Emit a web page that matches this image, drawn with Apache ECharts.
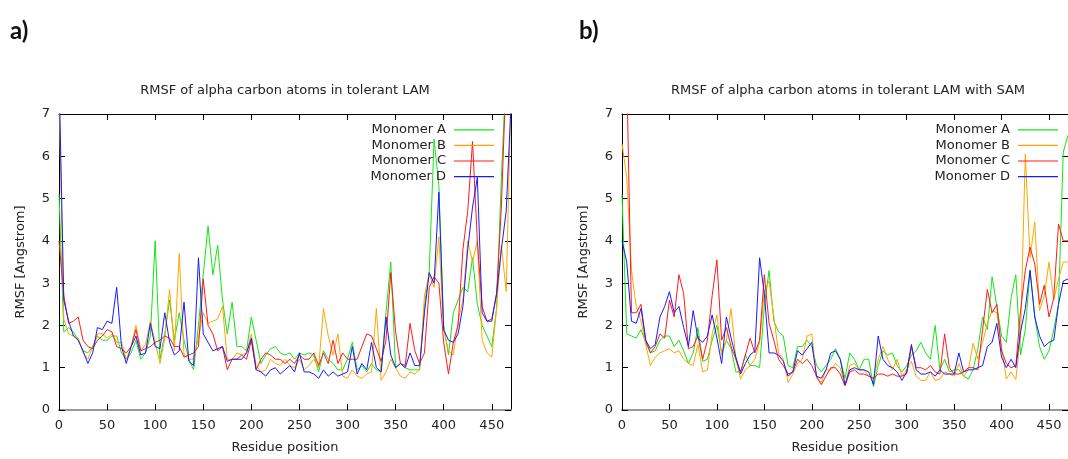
<!DOCTYPE html>
<html>
<head>
<meta charset="utf-8">
<title>RMSF tolerant LAM</title>
<script src="https://cdn.jsdelivr.net/npm/echarts@6/dist/echarts.min.js"></script>
<style>
  html, body { margin: 0; padding: 0; background: #fff; }
  #main { width: 1068px; height: 459px; }
</style>
</head>
<body>
<div id="main"></div>
<script>
// residue positions (every 5th residue)
const residues = [0,5,10,15,20,25,30,35,40,45,50,55,60,65,70,75,80,85,90,95,
  100,105,110,115,120,125,130,135,140,145,150,155,160,165,170,175,180,185,190,195,
  200,205,210,215,220,225,230,235,240,245,250,255,260,265,270,275,280,285,290,295,
  300,305,310,315,320,325,330,335,340,345,350,355,360,365,370,375,380,385,390,395,
  400,405,410,415,420,425,430,435,440,445,450,455,460,465,470];

// a) tolerant LAM
const apoA = [5.1,1.85,1.95,1.85,1.65,1.4,1.35,1.5,1.75,1.65,1.65,1.75,1.75,1.35,1.2,1.35,1.65,1.2,1.35,1.75,
  4.0,1.2,1.8,2.6,1.65,2.3,1.65,1.2,0.95,2.0,3.2,4.35,3.2,3.9,2.6,1.8,2.55,1.5,1.5,1.4,
  2.2,1.65,1.1,1.3,1.45,1.5,1.35,1.3,1.35,1.2,1.35,1.3,1.35,1.3,0.9,1.4,1.2,1.1,0.95,0.95,
  1.2,1.6,0.95,1.05,0.9,1.1,0.95,0.9,2.3,3.5,1.0,1.1,1.0,0.95,0.95,0.95,2.45,3.3,6.4,5.3,
  2.0,1.3,2.3,2.6,2.9,2.8,3.6,2.5,2.0,1.75,1.5,2.4,5.5,8,8];
const apoB = [7.5,2.15,1.8,1.75,1.7,1.35,1.2,1.5,1.8,1.8,1.7,1.8,1.6,1.6,1.2,1.5,2.0,1.4,1.55,2.1,
  1.6,1.1,1.7,2.85,1.4,3.7,1.3,1.2,1.2,1.7,2.3,2.05,2.1,2.15,2.45,1.2,1.2,1.35,1.3,1.35,
  1.8,1.05,0.9,0.95,1.2,1.1,1.05,1.2,1.05,1.0,1.2,0.95,1.05,1.2,1.0,2.4,1.75,1.3,1.8,0.8,
  0.75,0.95,0.8,0.75,0.85,0.9,2.4,0.7,0.9,1.2,1.0,0.8,0.75,0.9,0.85,0.95,2.7,3.2,2.9,4.1,
  1.9,1.4,1.3,2.1,2.6,4.0,3.5,4.0,1.65,1.35,1.25,2.4,3.9,2.8,7.5];
const apoC = [4.0,2.7,2.05,2.1,2.2,1.65,1.5,1.45,1.65,1.75,1.9,1.85,1.5,1.45,1.35,1.5,1.9,1.4,1.45,1.5,
  1.6,1.65,1.75,1.7,1.5,1.5,1.25,1.3,1.35,1.5,3.1,2.0,1.8,1.4,1.5,0.95,1.2,1.2,1.3,1.2,
  1.65,0.95,1.2,1.35,1.3,1.2,1.2,1.1,1.2,1.1,1.3,1.2,1.2,1.35,1.05,1.35,1.1,1.65,1.1,1.35,
  1.2,1.2,1.2,1.5,1.8,1.75,1.45,1.15,1.65,3.25,1.85,1.1,1.05,2.05,1.4,1.1,1.35,2.9,3.15,3.0,
  1.6,0.85,1.6,2.0,3.8,4.7,6.35,4.0,2.45,2.1,2.15,2.75,4.8,8,8];
const apoD = [8,2.6,2.1,1.75,1.65,1.4,1.1,1.35,1.95,1.9,2.1,2.05,2.9,1.5,1.1,1.5,1.75,1.3,1.35,2.05,
  1.5,1.45,2.3,1.6,1.3,1.4,2.55,1.15,1.05,3.6,1.8,1.6,1.4,1.45,1.5,1.15,1.2,1.2,1.2,1.35,
  1.7,0.95,0.9,0.8,0.95,1.0,0.85,0.95,1.05,0.9,1.35,0.9,0.9,0.85,0.75,0.95,0.8,0.9,0.8,0.85,
  0.9,1.5,0.85,1.1,0.95,1.6,1.0,0.9,2.2,1.3,1.0,1.1,1.0,1.35,1.05,1.05,2.3,3.25,3.0,5.15,
  1.9,1.65,1.6,1.8,2.45,3.8,4.8,5.5,2.3,2.1,2.1,2.75,3.8,4.7,7.2];

// b) tolerant LAM with SAM
const samA = [5.1,1.8,1.75,1.7,1.9,1.6,1.35,1.4,1.65,1.75,1.75,1.5,1.65,1.4,1.1,1.35,1.95,1.15,1.2,1.65,
  2.0,1.35,1.65,1.45,0.9,0.9,1.3,1.05,1.05,1.0,2.45,3.3,2.1,1.85,1.75,1.05,1.0,1.5,1.5,1.65,
  1.5,1.05,0.9,1.05,1.2,1.45,1.2,0.75,1.35,1.2,0.95,1.2,1.2,0.55,1.05,1.4,1.3,1.35,1.05,0.9,
  1.05,1.3,1.4,1.6,1.35,1.2,2.0,0.95,1.2,0.9,0.95,0.95,0.8,0.73,0.95,1.45,2.2,1.9,3.15,2.45,
  1.75,1.6,2.65,3.2,1.3,1.9,3.3,2.2,1.5,1.2,1.4,1.9,2.5,6.1,6.5];
const samB = [6.3,5.5,3.3,2.45,2.1,1.55,1.05,1.25,1.35,1.4,1.45,1.35,1.4,1.2,1.1,1.05,1.55,0.9,0.95,1.8,
  2.25,1.3,1.65,2.4,1.2,0.73,0.95,1.05,1.2,1.6,2.8,3.05,2.2,1.35,1.2,0.65,0.85,1.1,1.2,1.75,
  1.8,0.75,0.65,0.95,0.95,1.1,1.0,0.58,1.05,1.1,0.95,0.95,0.8,0.75,1.2,1.5,1.2,0.95,1.2,0.8,
  0.95,1.15,0.8,0.7,0.7,0.9,0.7,0.73,0.9,0.85,0.8,1.1,0.8,0.95,1.58,1.2,1.6,2.05,2.35,2.3,
  1.5,0.73,0.9,0.72,1.75,6.05,3.6,4.45,2.35,2.7,3.5,2.6,3.1,3.5,3.5];
const samC = [8,8,2.3,2.3,2.5,1.65,1.35,1.5,1.8,1.7,2.6,2.2,3.2,2.75,1.45,1.5,1.75,1.2,1.65,2.7,
  3.55,1.65,1.95,1.5,1.2,0.9,1.3,1.7,1.35,1.65,3.2,2.05,1.65,1.2,1.05,0.85,0.9,1.2,1.1,1.2,
  1.05,0.8,0.6,0.8,1.0,1.0,0.85,0.57,0.9,0.95,0.85,0.85,0.8,0.75,0.85,0.85,0.8,0.85,0.8,0.8,
  0.85,1.5,1.0,1.0,0.95,1.05,0.9,0.85,1.8,1.0,0.85,0.85,0.9,1.0,1.0,0.95,1.9,2.85,2.3,2.5,
  1.4,1.1,1.0,1.05,2.35,3.3,3.85,3.45,2.5,2.95,2.2,2.65,4.4,4.0,4.0];
const samD = [4.0,3.5,2.1,2.05,2.4,1.65,1.45,1.55,2.2,2.45,2.8,2.3,2.45,1.95,1.5,2.35,1.7,1.6,1.75,2.25,
  1.7,1.1,2.2,1.7,1.25,0.85,1.1,1.3,1.4,3.6,2.75,1.35,1.35,1.3,1.15,0.8,0.9,1.4,1.3,1.45,
  1.6,0.8,0.75,0.95,1.35,1.4,1.2,0.6,0.95,1.0,0.95,0.95,0.9,0.6,1.75,1.2,1.05,1.0,0.9,0.7,
  0.9,1.55,0.95,0.85,0.85,0.9,0.8,0.95,0.85,0.85,0.85,1.35,0.9,0.95,0.95,1.0,1.05,1.5,1.6,2.05,
  1.25,1.0,1.2,1.0,1.85,2.4,3.3,2.2,1.75,1.5,1.6,1.65,2.5,3.05,3.1];

const monomers = ['Monomer A', 'Monomer B', 'Monomer C', 'Monomer D'];
const colors = ['#14e614', '#ffa500', '#ff1a1a', '#1a1aff'];
const titles = ['RMSF of alpha carbon atoms in tolerant LAM',
                'RMSF of alpha carbon atoms in tolerant LAM with SAM'];

const FONT = 'DejaVu Sans';
const TXT = '#222';

const chart = echarts.init(document.getElementById('main'));

function pairs(vals) {
  return residues.map((r, i) => [r, vals[i]]);
}

// grids: panel a and panel b (b runs past the right edge like the original)
const grids = [
  { left: 59, top: 114, width: 452, height: 301 },
  { left: 622, top: 114, width: 451, height: 301 }
];

let xAxes = [], yAxes = [];
grids.forEach((g, gi) => {
  xAxes.push({
    gridIndex: gi, type: 'value', min: 0, max: 470, interval: 50,
    name: 'Residue position', nameLocation: 'middle', nameGap: 31,
    nameTextStyle: { fontFamily: FONT, fontSize: 13, color: TXT },
    axisLine: { onZero: false, lineStyle: { color: '#999', width: 2 } },
    axisTick: { inside: true, length: 6, lineStyle: { color: '#000' } },
    axisLabel: { fontFamily: FONT, fontSize: 13, color: TXT, margin: 9, showMaxLabel: false },
    splitLine: { show: false }
  });
  xAxes.push({
    gridIndex: gi, type: 'value', position: 'top', min: 0, max: 470, interval: 50,
    axisLine: { onZero: false, lineStyle: { color: '#000', width: 1 } },
    axisTick: { inside: true, length: 6, lineStyle: { color: '#000' } },
    axisLabel: { show: false },
    splitLine: { show: false }
  });
  yAxes.push({
    gridIndex: gi, type: 'value', min: 0, max: 7, interval: 1,
    name: 'RMSF [Angstrom]', nameLocation: 'middle', nameGap: 32, nameRotate: 90,
    nameTextStyle: { fontFamily: FONT, fontSize: 13, color: TXT },
    axisLine: { onZero: false, lineStyle: { color: '#000', width: 1 } },
    axisTick: { inside: true, length: 6, lineStyle: { color: '#000' } },
    axisLabel: { fontFamily: FONT, fontSize: 13, color: TXT, margin: 9 },
    splitLine: { show: false }
  });
  yAxes.push({
    gridIndex: gi, type: 'value', position: 'right', min: 0, max: 7, interval: 1,
    axisLine: { onZero: false, lineStyle: { color: '#000', width: 1 } },
    axisTick: { inside: true, length: 6, lineStyle: { color: '#000' } },
    axisLabel: { show: false },
    splitLine: { show: false }
  });
});

const panels = [[apoA, apoB, apoC, apoD], [samA, samB, samC, samD]];
let series = [];
panels.forEach((sets, gi) => {
  sets.forEach((vals, k) => {
    series.push({
      name: monomers[k], type: 'line',
      xAxisIndex: gi * 2, yAxisIndex: gi * 2,
      data: pairs(vals),
      symbol: 'none', clip: true,
      lineStyle: { width: 1, color: colors[k] },
      itemStyle: { color: colors[k] }
    });
  });
});

function legendAt(right) {
  return {
    orient: 'vertical', align: 'right', right: right, top: 122,
    padding: 0, itemGap: 0, itemWidth: 40, itemHeight: 1.2, icon: 'rect',
    selectedMode: false, data: monomers,
    textStyle: { fontFamily: FONT, fontSize: 13, color: TXT, lineHeight: 15.6, padding: [0, 3, 0, 0] }
  };
}

const option = {
  animation: false,
  backgroundColor: '#fff',
  grid: grids,
  xAxis: xAxes,
  yAxis: yAxes,
  legend: [legendAt(574), legendAt(10)],
  series: series,
  graphic: [
    { type: 'text', x: 285, y: 91, style: { text: titles[0], fill: TXT, font: '13px "DejaVu Sans"', textAlign: 'center', textVerticalAlign: 'middle' } },
    { type: 'text', x: 848, y: 91, style: { text: titles[1], fill: TXT, font: '13px "DejaVu Sans"', textAlign: 'center', textVerticalAlign: 'middle' } },
    { type: 'text', x: 10, y: 31, style: { text: 'a)', fill: '#111', font: 'bold 24px Lato', textAlign: 'left', textVerticalAlign: 'middle' } },
    { type: 'text', x: 579, y: 31, style: { text: 'b)', fill: '#111', font: 'bold 24px Lato', textAlign: 'left', textVerticalAlign: 'middle' } }
  ]
};

chart.setOption(option);
</script>
</body>
</html>
